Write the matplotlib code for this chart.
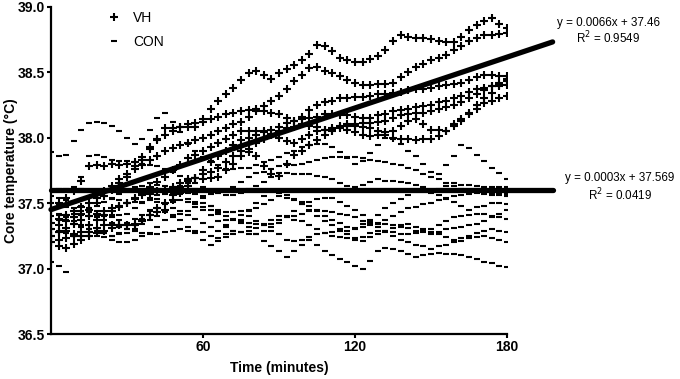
import numpy as np
import matplotlib
matplotlib.use("Agg")
import matplotlib.pyplot as plt
from matplotlib.lines import Line2D

plt.rcParams['font.family'] = ['Liberation Sans', 'DejaVu Sans']

# sampling times (minutes)
time_min = np.arange(0, 181, 3)

# VH group (core temperature, degC)
vh_a = [37.45,37.50,37.54,37.59,37.67,37.78,37.79,37.78,37.80,37.79,37.80,37.81,37.83,37.91,37.99,38.07,38.07,38.08,38.08,38.08,
        38.14,38.22,38.28,38.33,38.38,38.44,38.49,38.51,38.48,38.45,38.49,38.52,38.55,38.59,38.64,38.71,38.70,38.66,38.61,38.59,
        38.58,38.58,38.60,38.62,38.67,38.74,38.78,38.77,38.76,38.76,38.75,38.74,38.73,38.73,38.77,38.82,38.86,38.89,38.91,38.87,38.84]
vh_b = [37.35,37.38,37.41,37.44,37.47,37.50,37.54,37.59,37.63,37.68,37.72,37.76,37.79,37.83,37.86,37.90,37.92,37.94,37.96,37.98,
        38.00,38.02,38.05,38.07,38.10,38.12,38.16,38.20,38.24,38.28,38.32,38.37,38.43,38.48,38.53,38.54,38.51,38.49,38.47,38.44,
        38.42,38.40,38.40,38.41,38.41,38.42,38.46,38.50,38.54,38.56,38.59,38.61,38.63,38.67,38.70,38.74,38.76,38.78,38.78,38.79,38.80]
vh_c = [37.30,37.33,37.36,37.39,37.42,37.45,37.50,37.55,37.60,37.65,37.70,37.78,37.85,37.93,37.98,38.02,38.05,38.08,38.10,38.11,
        38.12,38.14,38.16,38.18,38.19,38.20,38.21,38.22,38.20,38.19,38.18,38.15,38.13,38.16,38.21,38.25,38.27,38.28,38.30,38.30,
        38.31,38.31,38.32,38.33,38.33,38.34,38.35,38.36,38.37,38.37,38.38,38.39,38.40,38.41,38.42,38.44,38.46,38.48,38.48,38.47,38.47]
vh_d = [37.25,37.28,37.31,37.34,37.37,37.40,37.42,37.44,37.46,37.48,37.50,37.54,37.58,37.62,37.66,37.70,37.75,37.79,37.84,37.87,
        37.90,37.93,37.96,37.99,38.02,38.05,38.05,38.05,38.05,38.03,38.00,37.97,37.96,37.99,38.02,38.05,38.06,38.07,38.08,38.06,
        38.04,38.02,38.01,38.02,38.04,38.05,38.09,38.13,38.14,38.10,38.06,38.06,38.05,38.10,38.14,38.19,38.25,38.30,38.34,38.39,38.43]
vh_e = [37.20,37.22,37.23,37.25,37.28,37.33,37.37,37.41,37.44,37.47,37.50,37.53,37.56,37.57,37.59,37.60,37.62,37.65,37.67,37.69,
        37.72,37.74,37.77,37.81,37.86,37.90,37.89,37.86,37.78,37.72,37.71,37.80,37.87,37.90,37.94,37.98,38.02,38.05,38.09,38.10,
        38.09,38.08,38.07,38.05,38.02,38.00,37.99,37.99,37.98,37.99,37.99,38.01,38.05,38.09,38.13,38.18,38.22,38.26,38.28,38.30,38.32]
vh_f = [37.20,37.17,37.16,37.19,37.22,37.25,37.27,37.29,37.31,37.33,37.33,37.34,37.36,37.41,37.46,37.50,37.56,37.62,37.68,37.69,
        37.68,37.69,37.70,37.75,37.80,37.86,37.91,37.96,37.99,38.02,38.05,38.07,38.08,38.10,38.09,38.08,38.06,38.06,38.07,38.09,
        38.10,38.11,38.11,38.12,38.13,38.15,38.17,38.18,38.19,38.19,38.20,38.22,38.23,38.25,38.27,38.30,38.33,38.36,38.39,38.42,38.45]
vh_g = [37.25,37.28,37.29,37.26,37.25,37.28,37.31,37.33,37.33,37.33,37.33,37.33,37.37,37.41,37.43,37.45,37.52,37.58,37.63,37.69,
        37.75,37.81,37.86,37.90,37.94,37.98,38.00,38.02,38.04,38.06,38.08,38.11,38.13,38.14,38.15,38.16,38.18,38.18,38.17,38.17,
        38.16,38.15,38.15,38.17,38.18,38.20,38.21,38.22,38.23,38.24,38.25,38.27,38.28,38.30,38.32,38.35,38.37,38.38,38.39,38.40,38.40]

# CON group
con_1 = [37.89,37.86,37.87,37.97,38.06,38.11,38.12,38.11,38.09,38.05,38.00,37.95,37.99,38.06,38.15,38.19,38.12,38.04,37.95,37.90,
         37.85,37.82,37.79,37.76,37.76,37.77,37.77,37.79,37.81,37.83,37.85,37.88,37.90,37.93,37.94,37.95,37.95,37.93,37.89,37.84,
         37.80,37.82,37.88,37.94,38.00,37.99,37.95,37.90,37.86,37.80,37.74,37.72,37.79,37.86,37.94,37.92,37.87,37.82,37.77,37.73,37.68]
con_2 = [37.05,37.02,36.97,37.25,37.70,37.86,37.87,37.85,37.83,37.82,37.82,37.81,37.80,37.79,37.78,37.76,37.74,37.71,37.68,37.65,
         37.62,37.60,37.58,37.56,37.56,37.58,37.61,37.63,37.66,37.70,37.73,37.73,37.72,37.72,37.72,37.71,37.70,37.68,37.65,37.63,
         37.62,37.64,37.66,37.68,37.67,37.67,37.66,37.65,37.64,37.62,37.60,37.61,37.63,37.65,37.64,37.64,37.63,37.62,37.62,37.62,37.62]
con_3 = [37.45,37.42,37.39,37.36,37.33,37.30,37.29,37.27,37.25,37.26,37.27,37.30,37.34,37.37,37.40,37.43,37.41,37.37,37.32,37.27,
         37.22,37.18,37.23,37.33,37.43,37.37,37.32,37.26,37.21,37.17,37.13,37.09,37.13,37.18,37.22,37.18,37.13,37.10,37.07,37.05,
         37.02,37.00,37.06,37.13,37.16,37.15,37.13,37.11,37.09,37.10,37.11,37.12,37.11,37.11,37.10,37.09,37.07,37.05,37.04,37.02,37.01]
con_4 = [37.55,37.54,37.52,37.51,37.48,37.46,37.44,37.41,37.39,37.37,37.35,37.38,37.41,37.44,37.46,37.49,37.51,37.52,37.51,37.51,
         37.50,37.48,37.45,37.43,37.43,37.44,37.44,37.46,37.49,37.52,37.55,37.54,37.52,37.51,37.48,37.44,37.40,37.37,37.35,37.32,
         37.30,37.32,37.33,37.35,37.37,37.40,37.43,37.46,37.47,37.49,37.50,37.52,37.53,37.55,37.56,37.57,37.58,37.58,37.58,37.57,37.57]
con_5 = [37.45,37.41,37.37,37.34,37.32,37.30,37.29,37.27,37.25,37.27,37.30,37.33,37.38,37.45,37.53,37.60,37.62,37.63,37.65,37.61,
         37.54,37.48,37.43,37.37,37.38,37.41,37.45,37.50,37.55,37.60,37.58,37.56,37.53,37.49,37.45,37.40,37.36,37.33,37.29,37.29,
         37.31,37.34,37.37,37.41,37.46,37.50,37.53,37.56,37.59,37.59,37.58,37.56,37.54,37.51,37.48,37.45,37.47,37.48,37.50,37.50,37.49]
con_6 = [37.30,37.29,37.27,37.25,37.25,37.25,37.25,37.24,37.22,37.20,37.20,37.22,37.25,37.27,37.32,37.37,37.39,37.42,37.44,37.47,
         37.47,37.45,37.42,37.40,37.37,37.36,37.35,37.34,37.33,37.34,37.37,37.39,37.40,37.42,37.44,37.45,37.44,37.43,37.42,37.41,
         37.39,37.36,37.35,37.34,37.34,37.33,37.32,37.31,37.29,37.28,37.26,37.28,37.30,37.31,37.32,37.33,37.34,37.36,37.39,37.42,37.45]
con_7 = [37.50,37.49,37.47,37.46,37.44,37.43,37.41,37.40,37.41,37.41,37.42,37.46,37.50,37.54,37.56,37.57,37.57,37.57,37.53,37.49,
         37.45,37.41,37.36,37.32,37.29,37.28,37.26,37.26,37.29,37.32,37.35,37.40,37.44,37.49,37.51,37.53,37.54,37.54,37.51,37.48,
         37.45,37.41,37.36,37.32,37.29,37.28,37.26,37.26,37.27,37.29,37.30,37.33,37.36,37.39,37.40,37.41,37.42,37.42,37.40,37.39,37.38]
con_8 = [37.40,37.41,37.41,37.42,37.41,37.40,37.39,37.37,37.35,37.32,37.30,37.29,37.27,37.26,37.26,37.28,37.29,37.30,37.29,37.29,
         37.28,37.25,37.21,37.24,37.29,37.35,37.40,37.36,37.33,37.29,37.26,37.22,37.21,37.22,37.24,37.26,37.27,37.28,37.30,37.26,
         37.23,37.21,37.24,37.26,37.29,37.31,37.33,37.34,37.32,37.30,37.28,37.26,37.24,37.22,37.23,37.25,37.27,37.29,37.30,37.29,37.28]
con_9 = [37.60,37.61,37.61,37.62,37.61,37.59,37.56,37.55,37.53,37.52,37.50,37.51,37.51,37.52,37.51,37.49,37.46,37.44,37.41,37.38,
         37.35,37.32,37.29,37.26,37.26,37.28,37.29,37.31,37.34,37.37,37.40,37.39,37.37,37.36,37.33,37.30,37.27,37.25,37.24,37.23,
         37.22,37.24,37.27,37.29,37.28,37.25,37.22,37.20,37.18,37.17,37.15,37.17,37.18,37.20,37.21,37.23,37.24,37.25,37.23,37.22,37.20]
con_10 = [37.35,37.37,37.37,37.39,37.42,37.45,37.48,37.51,37.54,37.57,37.60,37.62,37.63,37.65,37.64,37.63,37.61,37.60,37.58,37.57,
          37.55,37.57,37.58,37.60,37.62,37.66,37.70,37.73,37.74,37.76,37.78,37.79,37.79,37.80,37.81,37.83,37.84,37.85,37.85,37.85,
          37.85,37.84,37.83,37.82,37.81,37.80,37.79,37.77,37.75,37.72,37.70,37.68,37.65,37.63,37.61,37.60,37.59,37.57,37.56,37.56,37.55]

vh_series = [vh_a, vh_b, vh_c, vh_d, vh_e, vh_f, vh_g]
con_series = [con_1, con_2, con_3, con_4, con_5, con_6, con_7, con_8, con_9, con_10]

# fitted regression lines as drawn on the chart (start/end x and y)
group_labels = ["VH", "CON"]
fit_x = [0, 198]
fit_y_vh = [37.45, 38.73]
fit_y_con = [37.60, 37.60]
fit_eq_text = ["y = 0.0066x + 37.46", "y = 0.0003x + 37.569"]
fit_r2_text = ["R$^2$ = 0.9549", "R$^2$ = 0.0419"]

x_ticks = [60, 120, 180]
y_ticks = [36.5, 37.0, 37.5, 38.0, 38.5, 39.0]

fig = plt.figure(figsize=(6.8, 3.79), dpi=100)
ax = fig.add_axes([0.075, 0.1187, 0.6706, 0.864])

for s in con_series:
    ax.plot(time_min, s, linestyle='none', marker='_', markersize=4.0,
            markeredgewidth=1.5, color='black')
for s in vh_series:
    ax.plot(time_min, s, linestyle='none', marker='+', markersize=5.5,
            markeredgewidth=1.5, color='black')

for fy in (fit_y_vh, fit_y_con):
    ax.plot(fit_x, fy, color='black', linewidth=3.8,
            solid_capstyle='round', clip_on=False, zorder=5)

# equation annotations
eq_pos = [(220, 38.875, 38.76), (224.5, 37.69, 37.56)]
for (x, y1, y2), eq, r2 in zip(eq_pos, fit_eq_text, fit_r2_text):
    ax.text(x, y1, eq, ha='center', va='center', fontsize=8.4, clip_on=False)
    ax.text(x, y2, r2, ha='center', va='center', fontsize=8.4, clip_on=False)

ax.set_xlim(0, 180)
ax.set_ylim(36.5, 39.0)
ax.set_xticks(x_ticks)
ax.set_yticks(y_ticks)
ax.set_yticklabels([f"{v:.1f}" for v in y_ticks])
for lab in ax.get_xticklabels() + ax.get_yticklabels():
    lab.set_fontweight('bold')
ax.tick_params(axis='both', direction='out', length=3, width=1.5, labelsize=10, pad=1.5)
ax.spines['top'].set_visible(False)
ax.spines['right'].set_visible(False)
ax.spines['left'].set_linewidth(1.6)
ax.spines['bottom'].set_linewidth(1.6)

ax.set_xlabel("Time (minutes)", fontsize=10, fontweight='bold', labelpad=5)
ax.set_ylabel("Core temperature (°C)", fontsize=10, fontweight='bold', va='center')
ax.yaxis.set_label_coords(-0.088, 0.5)

handles = [Line2D([], [], linestyle='none', marker='+', markersize=6, markeredgewidth=1.5, color='black'),
           Line2D([], [], linestyle='none', marker='_', markersize=4.0, markeredgewidth=1.5, color='black')]
ax.legend(handles, group_labels, loc='upper left', bbox_to_anchor=(0.095, 1.025),
          frameon=False, fontsize=10, handlelength=1.0, handletextpad=0.9,
          labelspacing=0.7)

fig.savefig("out.png", dpi=100)
